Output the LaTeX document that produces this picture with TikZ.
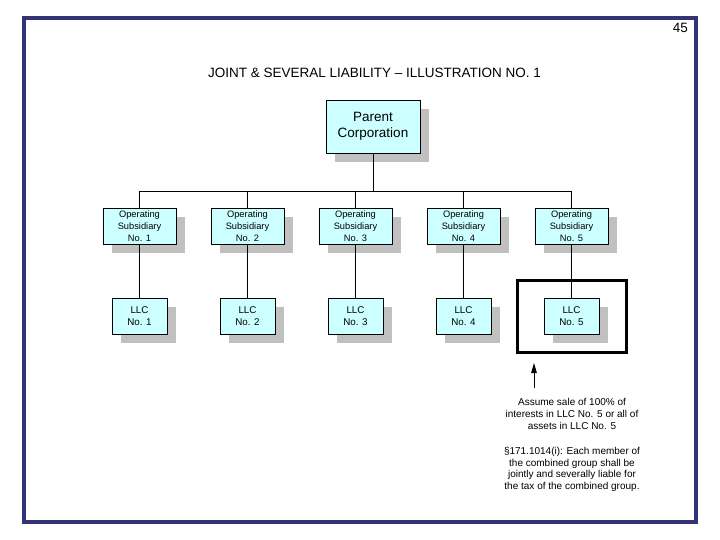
\documentclass[tikz,border=0pt]{standalone}
\usepackage{fontspec}
\setmainfont{Liberation Sans}
\usetikzlibrary{shadows,arrows.meta}
\definecolor{framenavy}{RGB}{51,51,119}
\definecolor{boxcyan}{RGB}{204,255,255}
\definecolor{shadowgray}{RGB}{192,192,192}
\tikzset{
  shbox/.style={draw=black, line width=0.8pt, fill=boxcyan, align=center, inner sep=0pt,
    drop shadow={shadow xshift=9pt, shadow yshift=-9pt, fill=shadowgray, opacity=1}},
  parentbox/.style={shbox, minimum width=94pt, minimum height=53pt,
    font=\fontsize{13.5}{16}\selectfont},
  subbox/.style={shbox, minimum width=73pt, minimum height=36pt,
    font=\fontsize{9.3}{11.7}\selectfont},
  llcbox/.style={shbox, minimum width=55pt, minimum height=36pt,
    font=\fontsize{9.8}{12.6}\selectfont},
  conn/.style={draw=black, line width=0.8pt},
  note/.style={align=center, inner sep=0pt, font=\fontsize{10}{12}\selectfont}
}
\begin{document}
\begin{tikzpicture}[x=1pt,y=-1pt]
\useasboundingbox (0,0) rectangle (720,540);
\fill[white] (0,0) rectangle (720,540);
% frame
\draw[framenavy, line width=3.3pt] (24,18) rectangle (696,522);
% page number and title
\node[anchor=east, inner sep=0pt, font=\fontsize{13.5}{16}\selectfont] (pgnum) at (688,28) {45};
\node[inner sep=0pt, font=\fontsize{13.5}{16}\selectfont] (title) at (374.5,73) {JOINT \& SEVERAL LIABILITY – ILLUSTRATION NO. 1};
% parent
\node[parentbox] (parent) at (373,126.5) {Parent\\Corporation};
% subsidiaries
\node[subbox] (s1) at (139.5,226) {Operating\\Subsidiary\\No. 1};
\node[subbox] (s2) at (247.5,226) {Operating\\Subsidiary\\No. 2};
\node[subbox] (s3) at (355.5,226) {Operating\\Subsidiary\\No. 3};
\node[subbox] (s4) at (463.5,226) {Operating\\Subsidiary\\No. 4};
\node[subbox] (s5) at (571.5,226) {Operating\\Subsidiary\\No. 5};
% LLCs
\node[llcbox] (l1) at (139.5,316) {LLC\\No. 1};
\node[llcbox] (l2) at (247.5,316) {LLC\\No. 2};
\node[llcbox] (l3) at (355.5,316) {LLC\\No. 3};
\node[llcbox] (l4) at (463.5,316) {LLC\\No. 4};
\node[llcbox] (l5) at (571.5,316) {LLC\\No. 5};
% connectors
\coordinate (bus) at (373,191);
\draw[conn] (parent.south) -- (parent.south |- bus);
\draw[conn] (s1.north) -- (s1.north |- bus) -- (s5.north |- bus) -- (s5.north);
\draw[conn] (s2.north) -- (s2.north |- bus);
\draw[conn] (s3.north) -- (s3.north |- bus);
\draw[conn] (s4.north) -- (s4.north |- bus);
\draw[conn] (s1) -- (l1);
\draw[conn] (s2) -- (l2);
\draw[conn] (s3) -- (l3);
\draw[conn] (s4) -- (l4);
\draw[conn] (s5) -- (l5);
% highlight
\node[draw=black, line width=3pt, minimum width=109pt, minimum height=72pt, inner sep=0pt] (hl) at (571.5,316) {};
% arrow
\coordinate (a0) at (534,388);
\coordinate (a1) at (534,363);
\draw[line width=0.8pt, -{Triangle[width=5.5pt,length=10pt]}] (a0) -- (a1);
% notes
\node[note] (n1) at (572,414) {Assume sale of 100\% of\\interests in LLC No. 5 or all of\\assets in LLC No. 5};
\node[note, font=\fontsize{10}{11.7}\selectfont] (n2) at (572,469.5) {§171.1014(i): Each member of\\the combined group shall be\\jointly and severally liable for\\the tax of the combined group.};
\end{tikzpicture}
\end{document}
